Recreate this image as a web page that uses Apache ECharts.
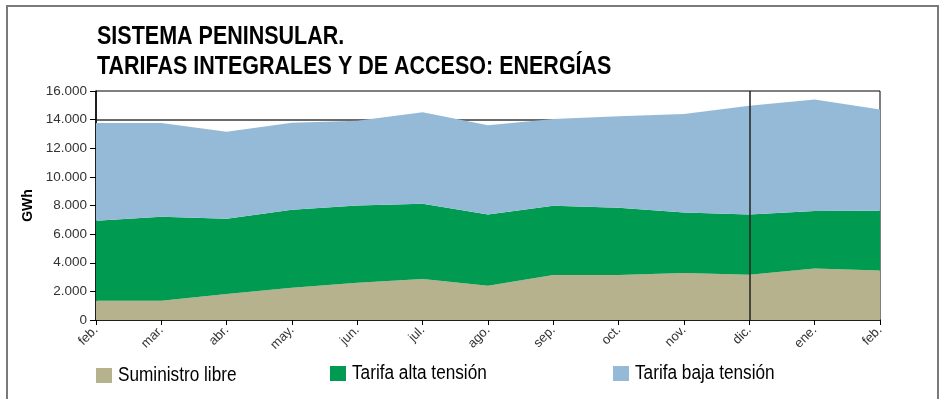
<!DOCTYPE html>
<html>
<head>
<meta charset="utf-8">
<script src="https://cdn.jsdelivr.net/npm/echarts@6/dist/echarts.min.js"></script>
<style>
  html, body { margin: 0; padding: 0; background: #fff; }
  #chart { width: 946px; height: 399px; }
</style>
</head>
<body>
<div id="chart"></div>
<script>
// Monthly energy (GWh), peninsular system, stacked by supply type
const months = ['feb.', 'mar.', 'abr.', 'may.', 'jun.', 'jul.', 'ago.', 'sep.', 'oct.', 'nov.', 'dic.', 'ene.', 'feb.'];
const suministroLibre = [1350, 1350, 1820, 2260, 2610, 2870, 2400, 3150, 3150, 3290, 3170, 3590, 3450];
const tarifaAlta      = [5580, 5860, 5250, 5440, 5390, 5250, 4970, 4830, 4690, 4220, 4200, 4020, 4180];
const tarifaBaja      = [6830, 6550, 6090, 6090, 5930, 6390, 6230, 6070, 6390, 6880, 7600, 7790, 7070];
const yTicks = [0, 2000, 4000, 6000, 8000, 10000, 12000, 14000, 16000];
const titleLines = ['SISTEMA PENINSULAR.', 'TARIFAS INTEGRALES Y DE ACCESO: ENERGÍAS'];
const seriesNames = ['Suministro libre', 'Tarifa alta tensión', 'Tarifa baja tensión'];

const FONT = '"Liberation Sans", Arial, Helvetica, sans-serif';
const COLORS = ['#B5B28D', '#009B50', '#95BAD8'];
const NARROW = 0.86;   // horizontal squeeze for a condensed look

const fmt = v => String(v).replace(/\B(?=(\d{3})+(?!\d))/g, '.');

const chart = echarts.init(document.getElementById('chart'), null, { renderer: 'canvas' });

function areaSeries(i, data, extra) {
  return Object.assign({
    name: seriesNames[i], type: 'line', stack: 'total', data,
    symbol: 'none', smooth: false,
    lineStyle: { width: 0 },
    areaStyle: { color: COLORS[i], opacity: 1 },
    itemStyle: { color: COLORS[i] },
    emphasis: { disabled: true }
  }, extra || {});
}

function condensedText(text, x, y, size, weight) {
  return {
    type: 'text', x, y, scaleX: NARROW, silent: true,
    style: {
      text, fill: '#000',
      font: `${weight} ${size}px ${FONT}`,
      verticalAlign: 'middle', align: 'left'
    }
  };
}

// Legend: swatch + condensed label for each series
const legendPos = [[96, 368], [330, 366], [613, 366]];
const legendItems = [];
seriesNames.forEach((name, i) => {
  const [lx, ly] = legendPos[i];
  legendItems.push({
    type: 'rect', silent: true,
    shape: { x: lx, y: ly, width: 16, height: 15 },
    style: { fill: COLORS[i] }
  });
  legendItems.push(condensedText(name, lx + 22, ly + 7, 20, 'normal'));
});

chart.setOption({
  animation: false,
  backgroundColor: '#fff',
  graphic: [
    {
      type: 'rect', silent: true, z: -1,
      shape: { x: 7, y: 6, width: 931, height: 420 },
      style: { fill: 'none', stroke: '#7a7a7a', lineWidth: 2 }
    },
    condensedText(titleLines[0], 97, 37, 25, 'bold'),
    condensedText(titleLines[1], 97, 67, 25, 'bold'),
    ...legendItems
  ],
  grid: { left: 96, right: 66, top: 91, bottom: 79, show: true, borderColor: '#000', borderWidth: 1, backgroundColor: 'transparent' },
  xAxis: {
    type: 'category', data: months, boundaryGap: false,
    axisLine: { lineStyle: { color: '#000', width: 1.5 } },
    axisTick: { show: true, alignWithLabel: true, length: 5, lineStyle: { color: '#000' } },
    axisLabel: { rotate: 45, interval: 0, fontFamily: FONT, fontSize: 13, color: '#333', margin: 8 },
    splitLine: { show: false }
  },
  yAxis: {
    type: 'value', min: yTicks[0], max: yTicks[yTicks.length - 1], interval: 2000,
    name: 'GWh', nameLocation: 'middle', nameGap: 51, nameRotate: 90,
    nameTextStyle: { fontFamily: FONT, fontWeight: 'bold', fontSize: 14, color: '#000' },
    axisLine: { show: true, lineStyle: { color: '#000', width: 1.5 } },
    axisTick: { show: true, length: 6, lineStyle: { color: '#000' } },
    axisLabel: { fontFamily: FONT, fontSize: 13.5, color: '#333', margin: 9, formatter: v => fmt(v) },
    splitLine: {
      show: true,
      lineStyle: { width: 2, color: yTicks.map(t => t === 14000 ? '#6a6a6a' : 'rgba(0,0,0,0)') }
    }
  },
  series: [
    areaSeries(0, suministroLibre),
    areaSeries(1, tarifaAlta),
    areaSeries(2, tarifaBaja, {
      markLine: {
        silent: true, symbol: 'none', label: { show: false },
        lineStyle: { color: '#222', width: 1.5, type: 'solid' },
        data: [{ xAxis: 10 }]
      }
    })
  ]
});
</script>
</body>
</html>
